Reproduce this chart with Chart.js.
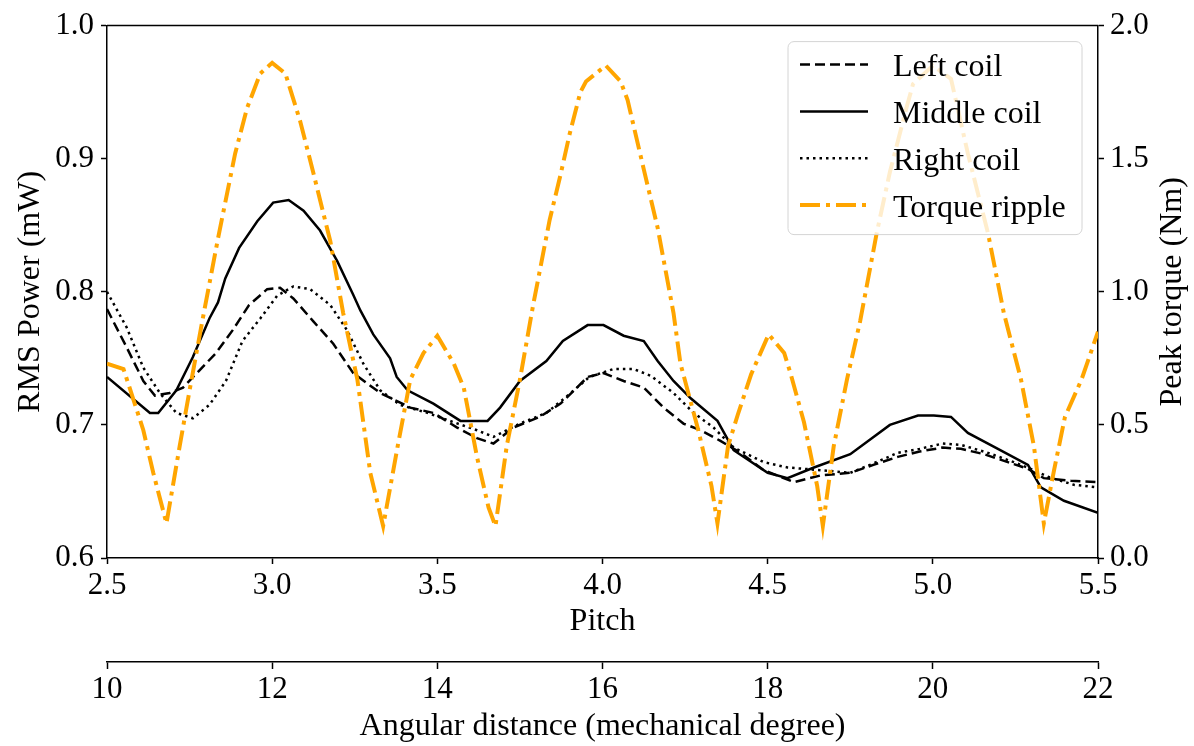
<!DOCTYPE html>
<html>
<head>
<meta charset="utf-8">
<script src="https://cdn.jsdelivr.net/npm/chart.js@4"></script>
<style>
  html, body { margin: 0; padding: 0; background: #fff; }
  canvas { display: block; }
</style>
</head>
<body>
<canvas id="chart" width="1194" height="746"></canvas>
<script>
// tick values
const pitchTicks = [2.5, 3.0, 3.5, 4.0, 4.5, 5.0, 5.5];
const powerTicks = [0.6, 0.7, 0.8, 0.9, 1.0];
const torqueTicks = [0.0, 0.5, 1.0, 1.5, 2.0];
const angleTicks = [10, 12, 14, 16, 18, 20, 22];

// RMS power (mW)
const leftPitch = [2.50, 2.56, 2.61, 2.645, 2.69, 2.73, 2.78, 2.83, 2.88, 2.93, 2.985, 3.024, 3.064, 3.124, 3.185, 3.245, 3.327, 3.418, 3.488, 3.56, 3.62, 3.67, 3.73, 3.81, 3.873, 3.955, 4.003, 4.064, 4.125, 4.185, 4.245, 4.297, 4.357, 4.418, 4.488, 4.58, 4.66, 4.75, 4.82, 4.894, 4.96, 5.03, 5.085, 5.155, 5.227, 5.288, 5.336, 5.418, 5.50];
const leftCoil = [0.787, 0.758, 0.733, 0.722, 0.724, 0.728, 0.741, 0.754, 0.771, 0.79, 0.802, 0.803, 0.795, 0.778, 0.761, 0.739, 0.724, 0.713, 0.709, 0.698, 0.69, 0.686, 0.698, 0.706, 0.716, 0.736, 0.739, 0.733, 0.728, 0.713, 0.701, 0.696, 0.688, 0.679, 0.666, 0.657, 0.662, 0.664, 0.67, 0.676, 0.68, 0.683, 0.682, 0.678, 0.672, 0.667, 0.66, 0.658, 0.657];

const middlePitch = [2.50, 2.63, 2.655, 2.71, 2.76, 2.81, 2.836, 2.858, 2.90, 2.955, 3.003, 3.05, 3.095, 3.145, 3.197, 3.245, 3.267, 3.306, 3.357, 3.377, 3.41, 3.488, 3.57, 3.652, 3.69, 3.75, 3.83, 3.88, 3.955, 4.003, 4.064, 4.125, 4.167, 4.215, 4.267, 4.348, 4.397, 4.50, 4.56, 4.64, 4.75, 4.87, 4.955, 5.003, 5.055, 5.106, 5.197, 5.288, 5.327, 5.397, 5.50];
const middleCoil = [0.736, 0.709, 0.709, 0.726, 0.751, 0.78, 0.792, 0.81, 0.833, 0.853, 0.867, 0.869, 0.861, 0.846, 0.823, 0.798, 0.786, 0.768, 0.75, 0.736, 0.726, 0.716, 0.703, 0.703, 0.713, 0.733, 0.748, 0.763, 0.775, 0.775, 0.767, 0.763, 0.748, 0.733, 0.72, 0.703, 0.681, 0.664, 0.66, 0.668, 0.678, 0.70, 0.707, 0.707, 0.706, 0.694, 0.682, 0.67, 0.653, 0.643, 0.634];

const rightPitch = [2.50, 2.56, 2.61, 2.66, 2.71, 2.76, 2.81, 2.86, 2.91, 2.964, 3.015, 3.064, 3.115, 3.176, 3.227, 3.276, 3.327, 3.388, 3.47, 3.55, 3.62, 3.67, 3.75, 3.83, 3.89, 3.96, 4.033, 4.094, 4.145, 4.215, 4.276, 4.336, 4.397, 4.488, 4.56, 4.66, 4.75, 4.82, 4.894, 4.96, 5.03, 5.085, 5.167, 5.245, 5.306, 5.348, 5.427, 5.50];
const rightCoil = [0.80, 0.773, 0.743, 0.724, 0.709, 0.705, 0.715, 0.733, 0.763, 0.78, 0.797, 0.804, 0.802, 0.79, 0.771, 0.746, 0.726, 0.715, 0.709, 0.702, 0.696, 0.691, 0.701, 0.709, 0.721, 0.736, 0.742, 0.742, 0.737, 0.724, 0.709, 0.698, 0.683, 0.672, 0.668, 0.666, 0.664, 0.671, 0.679, 0.682, 0.686, 0.685, 0.679, 0.672, 0.666, 0.661, 0.655, 0.653];

// peak torque (Nm)
const torquePitch = [2.50, 2.55, 2.61, 2.64, 2.68, 2.72, 2.75, 2.79, 2.836, 2.888, 2.924, 2.964, 3.00, 3.04, 3.085, 3.124, 3.176, 3.215, 3.258, 3.297, 3.336, 3.38, 3.418, 3.458, 3.50, 3.55, 3.58, 3.62, 3.655, 3.676, 3.71, 3.75, 3.79, 3.84, 3.873, 3.90, 3.933, 3.95, 4.01, 4.055, 4.076, 4.125, 4.167, 4.215, 4.236, 4.29, 4.33, 4.348, 4.38, 4.41, 4.45, 4.503, 4.55, 4.57, 4.61, 4.65, 4.667, 4.70, 4.74, 4.78, 4.83, 4.87, 4.92, 4.94, 5.00, 5.055, 5.106, 5.167, 5.215, 5.267, 5.306, 5.336, 5.367, 5.40, 5.45, 5.50];
const torqueRipple = [0.73, 0.71, 0.48, 0.32, 0.13, 0.42, 0.63, 0.90, 1.20, 1.52, 1.69, 1.82, 1.86, 1.82, 1.64, 1.45, 1.19, 0.92, 0.67, 0.32, 0.12, 0.42, 0.67, 0.77, 0.835, 0.73, 0.64, 0.38, 0.19, 0.12, 0.42, 0.67, 0.95, 1.27, 1.44, 1.59, 1.75, 1.79, 1.85, 1.79, 1.72, 1.46, 1.24, 0.92, 0.73, 0.48, 0.27, 0.13, 0.42, 0.54, 0.69, 0.84, 0.77, 0.69, 0.51, 0.27, 0.12, 0.42, 0.67, 0.89, 1.22, 1.45, 1.69, 1.78, 1.85, 1.80, 1.52, 1.22, 0.92, 0.67, 0.42, 0.13, 0.33, 0.53, 0.67, 0.85];

const serif = '"Liberation Serif", "Times New Roman", serif';
const tickFont = { family: serif, size: 31 };
const titleFont = { family: serif, size: 32 };

function pts(xs, ys) {
  return xs.map((x, i) => ({ x, y: ys[i] }));
}

function fixTicks(values) {
  return scale => { scale.ticks = values.map(v => ({ value: v })); };
}

function axisStyle(tickLen, pad) {
  return {
    border: { color: '#000', width: 1.5 },
    grid: { drawOnChartArea: false, drawTicks: true, tickLength: tickLen, tickColor: '#000', tickWidth: 1.5 },
    ticks: { font: tickFont, color: '#000', padding: pad, maxRotation: 0, autoSkip: false }
  };
}

// frame top, right axis title (reads upwards) and legend box inside the plot
const extras = {
  id: 'extras',
  afterDatasetsDraw(chart) {
    const { ctx, chartArea: a } = chart;
    ctx.save();
    ctx.strokeStyle = '#000';
    ctx.lineWidth = 1.5;
    ctx.beginPath();
    ctx.moveTo(a.left, a.top);
    ctx.lineTo(a.right, a.top);
    ctx.stroke();

    ctx.fillStyle = '#000';
    ctx.font = `32px ${serif}`;
    ctx.textAlign = 'center';
    ctx.textBaseline = 'middle';
    ctx.translate(1173, (a.top + a.bottom) / 2);
    ctx.rotate(-Math.PI / 2);
    ctx.fillText('Peak torque (Nm)', 0, 0);
    ctx.restore();

    const bx = a.right - 310, by = a.top + 16, bw = 294, bh = 193;
    ctx.save();
    ctx.fillStyle = 'rgba(255,255,255,0.8)';
    ctx.strokeStyle = '#d4d4d4';
    ctx.lineWidth = 1;
    ctx.beginPath();
    ctx.roundRect(bx, by, bw, bh, 6);
    ctx.fill();
    ctx.stroke();
    chart.data.datasets.forEach((ds, i) => {
      const y = by + 23 + i * 46.8;
      ctx.strokeStyle = ds.borderColor;
      ctx.lineWidth = ds.borderWidth;
      ctx.setLineDash(ds.borderDash || []);
      ctx.beginPath();
      ctx.moveTo(bx + 12, y);
      ctx.lineTo(bx + 80, y);
      ctx.stroke();
      ctx.setLineDash([]);
      ctx.fillStyle = '#000';
      ctx.font = `32px ${serif}`;
      ctx.textBaseline = 'alphabetic';
      ctx.textAlign = 'left';
      ctx.fillText(ds.label, bx + 105, y + 11.5);
    });
    ctx.restore();
  }
};

const xStyle = axisStyle(6, 3);
const x2Style = axisStyle(7, 2);
const yStyle = axisStyle(6, 7);
const y1Style = axisStyle(6, 6);

new Chart(document.getElementById('chart'), {
  type: 'line',
  data: {
    datasets: [
      { label: 'Left coil', data: pts(leftPitch, leftCoil), yAxisID: 'y', borderColor: '#000', borderWidth: 2.5, borderDash: [10, 5], pointRadius: 0, order: 1 },
      { label: 'Middle coil', data: pts(middlePitch, middleCoil), yAxisID: 'y', borderColor: '#000', borderWidth: 2.5, pointRadius: 0, order: 1 },
      { label: 'Right coil', data: pts(rightPitch, rightCoil), yAxisID: 'y', borderColor: '#000', borderWidth: 2.5, borderDash: [2.5, 4], pointRadius: 0, order: 1 },
      { label: 'Torque ripple', data: pts(torquePitch, torqueRipple), yAxisID: 'y1', borderColor: '#FFA500', borderWidth: 4, borderDash: [20, 6, 4, 6], pointRadius: 0, order: 0 }
    ]
  },
  options: {
    responsive: false,
    devicePixelRatio: 1,
    animation: false,
    layout: { padding: { top: 24, left: 0, right: 0, bottom: 0 } },
    plugins: { legend: { display: false }, tooltip: { enabled: false } },
    scales: {
      x: {
        type: 'linear', position: 'bottom', weight: 0, min: 2.5, max: 5.5,
        afterBuildTicks: fixTicks(pitchTicks),
        afterFit: s => { s.height = 104; },
        border: xStyle.border, grid: xStyle.grid,
        ticks: { ...xStyle.ticks, callback: v => v.toFixed(1) },
        title: { display: true, text: 'Pitch', font: titleFont, color: '#000', padding: { top: 0, bottom: 21 } }
      },
      x2: {
        type: 'linear', position: 'bottom', weight: 1, min: 10, max: 22,
        afterBuildTicks: fixTicks(angleTicks),
        afterFit: s => { s.height = 84; },
        border: x2Style.border, grid: x2Style.grid,
        ticks: { ...x2Style.ticks, callback: v => String(v) },
        title: { display: true, text: 'Angular distance (mechanical degree)', font: titleFont, color: '#000', padding: { top: 0, bottom: 0 } }
      },
      y: {
        type: 'linear', position: 'left', min: 0.6, max: 1.0,
        afterBuildTicks: fixTicks(powerTicks),
        afterFit: s => { s.width = 107; },
        border: yStyle.border, grid: yStyle.grid,
        ticks: { ...yStyle.ticks, callback: v => v.toFixed(1) },
        title: { display: true, text: 'RMS Power (mW)', font: titleFont, color: '#000', padding: { top: 11, bottom: 0 } }
      },
      y1: {
        type: 'linear', position: 'right', min: 0, max: 2.0,
        afterBuildTicks: fixTicks(torqueTicks),
        afterFit: s => { s.width = 96; },
        border: y1Style.border, grid: y1Style.grid,
        ticks: { ...y1Style.ticks, callback: v => v.toFixed(1) },
        title: { display: false }
      }
    }
  },
  plugins: [extras]
});
</script>
</body>
</html>
